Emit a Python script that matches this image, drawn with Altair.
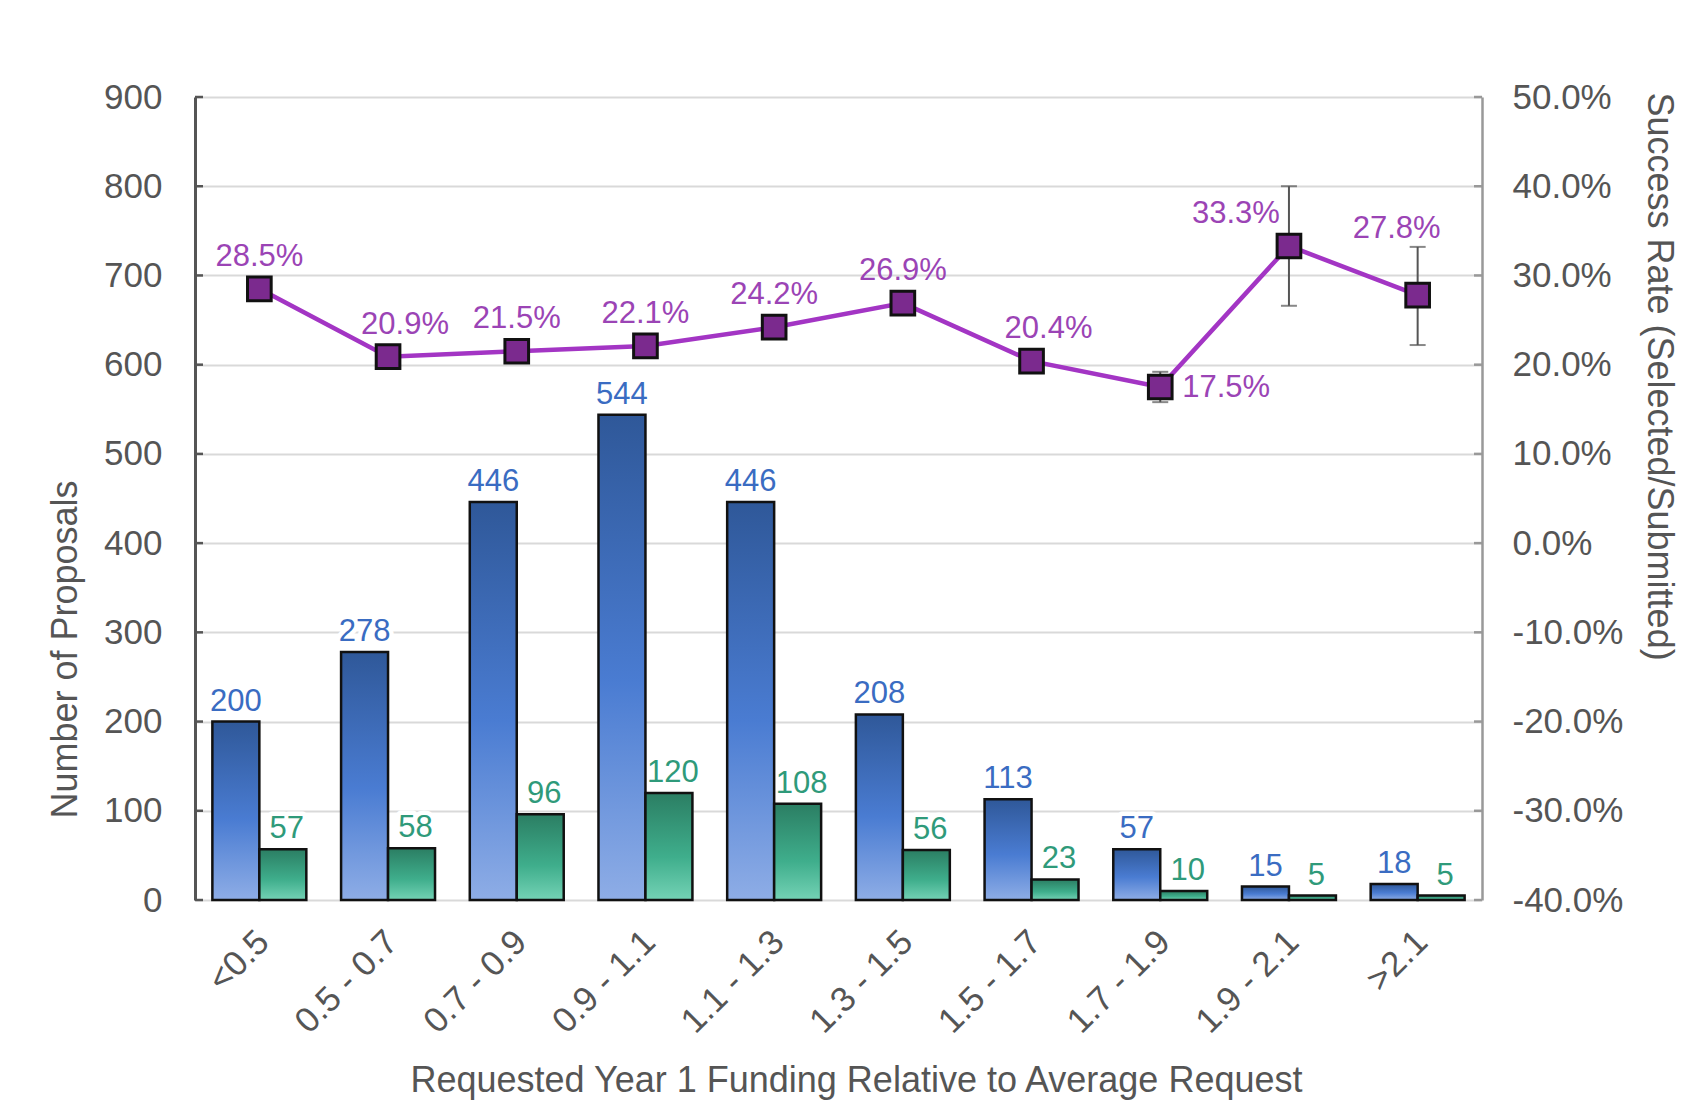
import altair as alt
import pandas as pd

# ---------------- data ----------------
categories = ["<0.5", "0.5 - 0.7", "0.7 - 0.9", "0.9 - 1.1", "1.1 - 1.3",
              "1.3 - 1.5", "1.5 - 1.7", "1.7 - 1.9", "1.9 - 2.1", ">2.1"]
submitted = [200, 278, 446, 544, 446, 208, 113, 57, 15, 18]
selected = [57, 58, 96, 120, 108, 56, 23, 10, 5, 5]
success_rate = [0.285, 0.209, 0.215, 0.221, 0.242, 0.269, 0.204, 0.175, 0.333, 0.278]
err_low = [None, None, None, None, None, None, None, 0.158, 0.266, 0.222]
err_high = [None, None, None, None, None, None, None, 0.192, 0.400, 0.332]
count_ticks = [0, 100, 200, 300, 400, 500, 600, 700, 800, 900]
rate_ticks = [-0.4, -0.3, -0.2, -0.1, 0.0, 0.1, 0.2, 0.3, 0.4, 0.5]
series_names = ["Submitted", "Selected"]

# ---------------- style ----------------
FONT = "Liberation Sans"
W, H = 1287, 803
AX_COLOR = "#555555"
BLUE_TXT = "#3a6cc2"
GREEN_TXT = "#2f9a7a"
PURPLE_TXT = "#9b44b5"

bars_df = pd.DataFrame({
    "cat": categories * 2,
    "series": [series_names[0]] * len(categories) + [series_names[1]] * len(categories),
    "value": submitted + selected,
})
rate_df = pd.DataFrame({"cat": categories, "rate": success_rate, "lo": err_low, "hi": err_high})
err_df = rate_df.dropna()
count_tick_df = pd.DataFrame({"value": count_ticks})
rate_tick_df = pd.DataFrame({"rate": rate_ticks})

x_enc = alt.X(
    "cat:N", sort=categories,
    scale=alt.Scale(paddingInner=0.27, paddingOuter=0.135),
    axis=alt.Axis(
        title="Requested Year 1 Funding Relative to Average Request",
        labelAngle=-45, labelFontSize=35, labelColor=AX_COLOR, labelFont=FONT,
        labelPadding=24, labelOffset=-8, domain=False, ticks=False,
        titleFontSize=36, titleColor=AX_COLOR, titleFont=FONT, titleFontWeight="normal",
        titleX=661, titleY=180, titleAlign="center", titleBaseline="middle",
    ),
)
xoff_enc = alt.XOffset("series:N", scale=alt.Scale(domain=series_names, paddingInner=0, paddingOuter=0))

y_left_axis = alt.Axis(
    values=count_ticks, title="Number of Proposals",
    labelFontSize=35, labelColor=AX_COLOR, labelFont=FONT, labelPadding=33,
    titleFontSize=36, titleColor=AX_COLOR, titleFont=FONT, titleFontWeight="normal",
    titleAngle=270, titleX=-130, titleY=552, titleAlign="center", titleBaseline="middle",
    grid=True, gridColor="#d9d9d9", gridWidth=2, ticks=False,
    domainColor=AX_COLOR, domainWidth=3,
)
y_left_scale = alt.Scale(domain=[0, 900], nice=False)


def y_left(field):
    return alt.Y(f"{field}:Q", scale=y_left_scale, axis=y_left_axis)


y_right_axis = alt.Axis(
    orient="right", values=rate_ticks,
    labelExpr="replace(format(datum.value, '.1%'), '\u2212', '-')",
    title="Success Rate (Selected/Submitted)",
    labelFontSize=35, labelColor=AX_COLOR, labelFont=FONT, labelPadding=30,
    titleFontSize=36, titleColor=AX_COLOR, titleFont=FONT, titleFontWeight="normal",
    titleAngle=90, titleX=176, titleY=279, titleAlign="center", titleBaseline="middle",
    grid=False, ticks=False, domainColor="#999999", domainWidth=2.5,
)
y_right_scale = alt.Scale(domain=[-0.4, 0.5], nice=False)


def y_right(field):
    return alt.Y(f"{field}:Q", scale=y_right_scale, axis=y_right_axis)


blue_grad = alt.LinearGradient(
    gradient="linear", x1=0, x2=0, y1=0, y2=1,
    stops=[alt.GradientStop(offset=0, color="#2f5899"),
           alt.GradientStop(offset=0.55, color="#4a7cd2"),
           alt.GradientStop(offset=1, color="#8eade6")],
)
green_grad = alt.LinearGradient(
    gradient="linear", x1=0, x2=0, y1=0, y2=1,
    stops=[alt.GradientStop(offset=0, color="#2b7e63"),
           alt.GradientStop(offset=0.6, color="#3fae8c"),
           alt.GradientStop(offset=1, color="#74d2b5")],
)

base_bars = alt.Chart(bars_df)

bars_blue = base_bars.transform_filter(alt.datum.series == series_names[0]).mark_bar(
    fill=blue_grad, stroke="#111111", strokeWidth=2.5
).encode(x=x_enc, xOffset=xoff_enc, y=y_left("value"))

bars_green = base_bars.transform_filter(alt.datum.series == series_names[1]).mark_bar(
    fill=green_grad, stroke="#111111", strokeWidth=2.5
).encode(x=x_enc, xOffset=xoff_enc, y=y_left("value"))


def bar_labels(series, color, dx):
    src = base_bars.transform_filter(alt.datum.series == series)
    enc = dict(x=x_enc, xOffset=xoff_enc, y=y_left("value"), text=alt.Text("value:Q"))
    halo = src.mark_text(font=FONT, fontSize=31, dy=-11, dx=dx, baseline="alphabetic",
                         stroke="white", strokeWidth=9, strokeJoin="round", fill="white").encode(**enc)
    txt = src.mark_text(font=FONT, fontSize=31, dy=-11, dx=dx, baseline="alphabetic",
                        color=color).encode(**enc)
    return halo, txt


blue_halo, blue_txt = bar_labels(series_names[0], BLUE_TXT, 0)
green_halo, green_txt = bar_labels(series_names[1], GREEN_TXT, 4)

left_ticks = alt.Chart(count_tick_df).mark_rule(color=AX_COLOR, strokeWidth=2.5).encode(
    y=y_left("value"), x=alt.value(0), x2=alt.value(8)
)

left = alt.layer(
    blue_halo, green_halo,
    bars_blue, bars_green,
    blue_txt, green_txt,
    left_ticks,
)

base_rate = alt.Chart(rate_df)
line = base_rate.mark_line(color="#a335c4", strokeWidth=4.5).encode(x=x_enc, y=y_right("rate"))

err_rule = alt.Chart(err_df).mark_rule(color="#555555", strokeWidth=2).encode(
    x=x_enc, y=y_right("lo"), y2="hi:Q"
)
err_cap_lo = alt.Chart(err_df).mark_tick(color="#555555", thickness=2, size=16).encode(
    x=x_enc, y=y_right("lo")
)
err_cap_hi = alt.Chart(err_df).mark_tick(color="#555555", thickness=2, size=16).encode(
    x=x_enc, y=y_right("hi")
)

points = base_rate.mark_square(size=560, fill="#7b2a8e", stroke="#111111",
                               strokeWidth=3, opacity=1).encode(x=x_enc, y=y_right("rate"))

pct_label_groups = [
    (["<0.5", "0.7 - 0.9", "0.9 - 1.1", "1.1 - 1.3", "1.3 - 1.5"], 0, -23, "center", "alphabetic"),
    (["0.5 - 0.7", "1.5 - 1.7"], 17, -23, "center", "alphabetic"),
    (["1.7 - 1.9"], 22, 1, "left", "middle"),
    (["1.9 - 2.1"], -53, -23, "center", "alphabetic"),
    ([">2.1"], -21, -57, "center", "alphabetic"),
]
pct_layers = []
for cats, dx, dy, align, baseline in pct_label_groups:
    pct_layers.append(
        base_rate.transform_filter(alt.FieldOneOfPredicate(field="cat", oneOf=cats)).mark_text(
            font=FONT, fontSize=31, dx=dx, dy=dy, align=align, baseline=baseline, color=PURPLE_TXT
        ).encode(x=x_enc, y=y_right("rate"), text=alt.Text("rate:Q", format=".1%"))
    )

right_ticks = alt.Chart(rate_tick_df).mark_rule(color="#999999", strokeWidth=2.5).encode(
    y=y_right("rate"), x=alt.value(W - 8), x2=alt.value(W)
)

right = alt.layer(line, err_rule, err_cap_lo, err_cap_hi, points, *pct_layers, right_ticks)

chart = alt.layer(left, right).resolve_scale(y="independent").properties(
    width=W, height=H,
    autosize=alt.AutoSizeParams(type="none"),
    padding={"left": 187, "top": 89, "right": 206, "bottom": 207},
    background="white",
).configure_view(stroke=None)

chart.save("out.html", embed_options={"renderer": "svg", "actions": False})
